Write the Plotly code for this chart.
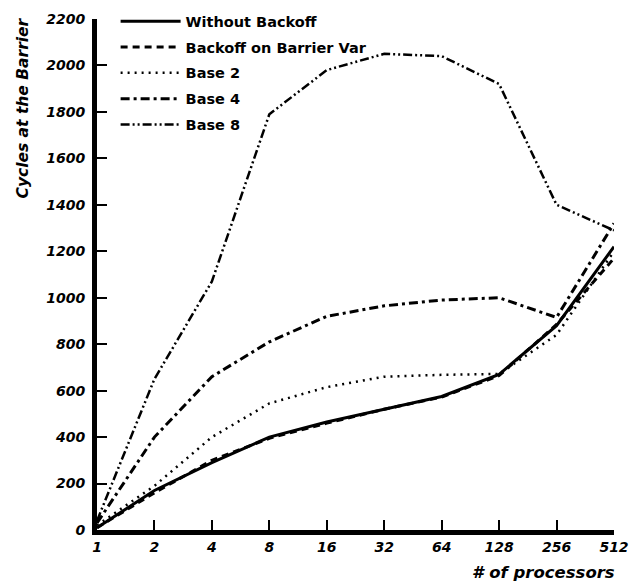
import plotly.graph_objects as go

processors = [1, 2, 4, 8, 16, 32, 64, 128, 256, 512]
without_backoff = [10, 170, 290, 400, 465, 520, 575, 670, 880, 1220]
backoff_barrier = [10, 160, 300, 395, 460, 520, 572, 665, 885, 1170]
base2 = [20, 190, 400, 545, 615, 660, 668, 672, 840, 1200]
base4 = [30, 400, 660, 810, 920, 965, 990, 1000, 915, 1320]
base8 = [40, 650, 1070, 1790, 1980, 2050, 2040, 1920, 1400, 1290]

names = ["Without Backoff", "Backoff on Barrier Var", "Base 2", "Base 4", "Base 8"]
series = [without_backoff, backoff_barrier, base2, base4, base8]
dashes = ["solid", "7px,5px", "2px,5px", "9px,4px,3px,4px", "9px,3px,2px,3px,2px,3px"]
widths = [3, 3, 2.5, 3, 2.5]

fig = go.Figure()
for i, (n, s, d, w) in enumerate(zip(names, series, dashes, widths)):
    fig.add_trace(go.Scatter(x=processors, y=s, mode="lines", name=n,
                             legendgroup=str(i),
                             line=dict(color="black", width=w, dash=d)))

FONT = "DejaVu Sans"
tickfont = dict(family=FONT, size=14, color="black", weight="bold", style="italic")
xtitlefont = dict(family=FONT, size=16.5, color="black", weight="bold", style="italic")
ytitlefont = dict(family=FONT, size=15.5, color="black", weight="bold", style="italic")

fig.update_layout(
    width=632, height=583,
    margin=dict(l=97, r=18, t=19, b=53, autoexpand=False),
    plot_bgcolor="white", paper_bgcolor="white",
    showlegend=True,
    legend=dict(x=0.036, y=1.027, xanchor="left", yanchor="top",
                font=dict(family=FONT, size=14.5, color="black", weight="bold"),
                tracegroupgap=4, bgcolor="rgba(0,0,0,0)", itemwidth=60),
    xaxis=dict(type="log", range=[0, 2.70927], tickvals=processors,
               ticktext=[str(p) for p in processors],
               showline=True, linecolor="black", linewidth=5,
               ticks="inside", ticklen=10, tickwidth=2, tickcolor="black",
               showgrid=False, zeroline=False, tickfont=tickfont),
    yaxis=dict(range=[0, 2200], tickvals=list(range(0, 2201, 200)),
               showline=True, linecolor="black", linewidth=5,
               ticks="inside", ticklen=10, tickwidth=2, tickcolor="black",
               ticklabelstandoff=4,
               showgrid=False, zeroline=False, tickfont=tickfont),
    annotations=[
        dict(text="# of processors", xref="paper", yref="paper",
             x=(543 - 97) / 517, y=0, xanchor="center", yanchor="top", yshift=-31,
             showarrow=False, font=xtitlefont),
        dict(text="Cycles at the Barrier", xref="paper", yref="paper",
             x=(23 - 97) / 517, y=(530 - 16) / 511, xanchor="center", yanchor="top",
             textangle=-90, showarrow=False, font=ytitlefont),
    ],
)

fig.write_html("out.html")
